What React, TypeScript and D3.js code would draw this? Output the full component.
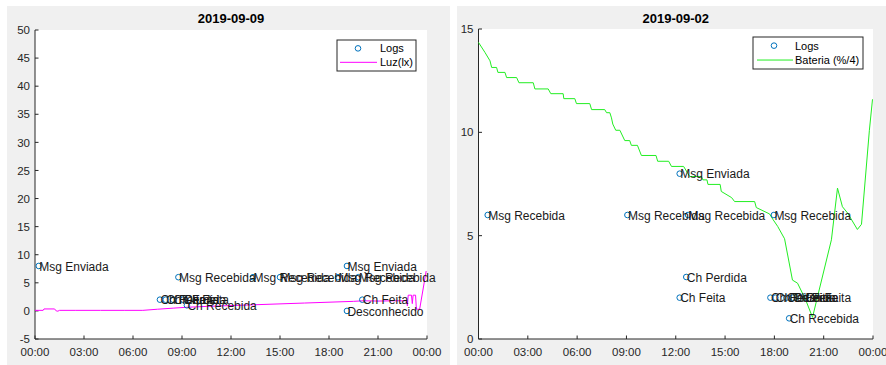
import React from "react";
import * as d3 from "d3";

// ---------- data ----------
const xTickHours = [0, 3, 6, 9, 12, 15, 18, 21, 24];
const xTickLabels = ["00:00", "03:00", "06:00", "09:00", "12:00", "15:00", "18:00", "21:00", "00:00"];

// Left panel (2019-09-09)
const leftTitle = "2019-09-09";
const leftYTicks = [-5, 0, 5, 10, 15, 20, 25, 30, 35, 40, 45, 50];
const luzHours = [0, 0.5, 0.55, 1.2, 1.3, 1.4, 1.5, 2.5, 4, 5.5, 6.6, 7.5, 8.5, 9.3, 10.5, 12, 13.5, 15, 16.5, 18, 19.5, 20.1, 21, 22, 22.75, 22.8, 22.85, 23.05, 23.1, 23.15, 23.3, 23.35, 23.55, 23.95];
const luzValues = [0.1, 0.1, 0.35, 0.35, 0.0, -0.05, 0.1, 0.1, 0.1, 0.1, 0.1, 0.3, 0.5, 0.65, 0.8, 0.95, 1.1, 1.25, 1.4, 1.55, 1.7, 1.8, 1.75, 1.8, 1.8, 0.9, 2.8, 2.8, 1.3, 2.8, 2.8, 0.3, 0.3, 7.1];
const leftLogHours = [0.23, 7.65, 8.0, 8.45, 9.06, 8.78, 9.3, 13.35, 15.0, 18.55, 19.1, 19.1, 19.8, 20.04];
const leftLogValues = [8, 2, 2, 2, 2, 6, 1, 6, 6, 6, 8, 0, 6, 2];
const leftLogLabels = ["Msg Enviada", "Ch Feita", "Ch Perdida", "Ch Feita", "Ch Feita", "Msg Recebida", "Ch Recebida", "Msg Recebida", "Msg Recebida", "Msg Recebida", "Msg Enviada", "Desconhecido", "Msg Recebida", "Ch Feita"];

// Right panel (2019-09-02)
const rightTitle = "2019-09-02";
const rightYTicks = [0, 5, 10, 15];
const batHours = [0, 0.39, 0.7, 0.8, 1.1, 1.18, 1.61, 1.71, 2.32, 2.46, 3.33, 3.43, 4.24, 4.4, 5.15, 5.19, 5.86, 5.96, 6.77, 6.88, 7.68, 7.79, 7.99, 8.09, 8.17, 8.35, 8.6, 8.9, 9.2, 9.3, 9.67, 9.91, 10.8, 10.9, 11.57, 11.74, 12.48, 12.85, 13.56, 13.65, 13.9, 13.96, 14.7, 14.77, 15.4, 15.58, 16.8, 16.9, 17.71, 17.9, 18.2, 18.62, 19.1, 19.41, 19.9, 20.32, 21.47, 21.84, 22.14, 22.45, 23.05, 23.3, 23.78, 23.97];
const batValues = [14.35, 13.87, 13.46, 13.14, 13.14, 12.9, 12.9, 12.65, 12.65, 12.4, 12.4, 12.1, 12.1, 11.87, 11.87, 11.63, 11.63, 11.39, 11.39, 11.1, 11.1, 10.95, 10.95, 10.7, 10.4, 10.1, 10.1, 9.6, 9.6, 9.37, 9.37, 8.88, 8.88, 8.6, 8.6, 8.35, 8.35, 7.86, 7.86, 7.7, 7.7, 7.48, 7.48, 7.14, 6.84, 6.65, 6.65, 6.36, 6.05, 5.8, 5.45, 4.85, 2.85, 2.7, 1.9, 1.05, 4.8, 7.3, 6.4, 6.1, 5.3, 5.55, 10.1, 11.6];
const rightLogHours = [0.56, 9.06, 12.24, 12.75, 17.97, 12.64, 12.24, 17.76, 18.06, 18.73, 19.1, 19.88, 18.9];
const rightLogValues = [6, 6, 8, 6, 6, 3, 2, 2, 2, 2, 2, 2, 1];
const rightLogLabels = ["Msg Recebida", "Msg Recebida", "Msg Enviada", "Msg Recebida", "Msg Recebida", "Ch Perdida", "Ch Feita", "Ch Feita", "Ch Perdida", "Ch Feita", "Ch Feita", "Ch Feita", "Ch Recebida"];

// ---------- styling ----------
const FONT = "'Liberation Sans', Arial, Helvetica, sans-serif";
const AXIS = "#262626";
const MARKER = "#0072BD";

type PanelProps = {
  bg: [number, number, number, number];
  plot: { left: number; right: number; top: number; bottom: number };
  yDomain: [number, number];
  yTicks: number[];
  title: string;
  lineH: number[];
  lineV: number[];
  lineColor: string;
  legendLabel: string;
  legend: { x0: number; x1: number; y0: number; y1: number; mark: number; lineX0: number; lineX1: number; text: number };
  logH: number[];
  logV: number[];
  logL: string[];
};

function Panel(p: PanelProps) {
  const x = d3.scaleLinear().domain([0, 24]).range([p.plot.left, p.plot.right]);
  const y = d3.scaleLinear().domain(p.yDomain).range([p.plot.bottom, p.plot.top]);
  const line = d3
    .line<number>()
    .x((_, i) => x(p.lineH[i]))
    .y((v) => y(v));
  const tl = 3.5;
  const lg = p.legend;
  const r1 = lg.y0 + (lg.y1 - lg.y0) * 0.27;
  const r2 = lg.y0 + (lg.y1 - lg.y0) * 0.72;
  return (
    <g>
      <rect x={p.bg[0]} y={p.bg[1]} width={p.bg[2] - p.bg[0]} height={p.bg[3] - p.bg[1]} fill="#f0f0f0" />
      <rect x={p.plot.left} y={p.plot.top} width={p.plot.right - p.plot.left} height={p.plot.bottom - p.plot.top} fill="#ffffff" />
      <text x={(p.plot.left + p.plot.right) / 2} y={22.5} textAnchor="middle" fontFamily={FONT} fontSize={13} fontWeight="bold" fill="#000">
        {p.title}
      </text>
      {/* y axis */}
      <line x1={p.plot.left} x2={p.plot.left} y1={p.plot.top} y2={p.plot.bottom} stroke={AXIS} strokeWidth={1} />
      {p.yTicks.map((t) => (
        <g key={"y" + t}>
          <line x1={p.plot.left} x2={p.plot.left + tl} y1={y(t)} y2={y(t)} stroke={AXIS} />
          <text x={p.plot.left - 5} y={y(t)} dy="0.36em" textAnchor="end" fontFamily={FONT} fontSize={11.5} fill={AXIS}>
            {t}
          </text>
        </g>
      ))}
      {/* x axis */}
      <line x1={p.plot.left} x2={p.plot.right} y1={p.plot.bottom} y2={p.plot.bottom} stroke={AXIS} strokeWidth={1} />
      {xTickHours.map((h, i) => (
        <g key={"x" + i}>
          <line x1={x(h)} x2={x(h)} y1={p.plot.bottom} y2={p.plot.bottom - tl} stroke={AXIS} />
          <text x={x(h)} y={p.plot.bottom + 17} textAnchor="middle" fontFamily={FONT} fontSize={11.5} fill={AXIS}>
            {xTickLabels[i]}
          </text>
        </g>
      ))}
      {/* series line */}
      <path d={line(p.lineV) || ""} fill="none" stroke={p.lineColor} strokeWidth={1} />
      {/* logs */}
      {p.logH.map((h, i) => (
        <circle key={"c" + i} cx={x(h)} cy={y(p.logV[i])} r={2.8} fill="none" stroke={MARKER} strokeWidth={1} />
      ))}
      {p.logH.map((h, i) => (
        <text key={"t" + i} x={x(h) + 0.5} y={y(p.logV[i])} dy="0.4em" fontFamily={FONT} fontSize={12} fill="#1a1a1a">
          {p.logL[i]}
        </text>
      ))}
      {/* legend */}
      <rect x={lg.x0} y={lg.y0} width={lg.x1 - lg.x0} height={lg.y1 - lg.y0} fill="#fff" stroke={AXIS} strokeWidth={1} />
      <circle cx={lg.mark} cy={r1} r={2.8} fill="none" stroke={MARKER} strokeWidth={1} />
      <text x={lg.text} y={r1} dy="0.36em" fontFamily={FONT} fontSize={11} fill="#000">
        Logs
      </text>
      <line x1={lg.lineX0} x2={lg.lineX1} y1={r2} y2={r2} stroke={p.lineColor} strokeWidth={1} />
      <text x={lg.text} y={r2} dy="0.36em" fontFamily={FONT} fontSize={11} fill="#000">
        {p.legendLabel}
      </text>
    </g>
  );
}

export default function App() {
  return (
    <svg width={886} height={365} style={{ position: "absolute", left: 0, top: 0, background: "#fff" }}>
      <rect x={0} y={0} width={886} height={365} fill="#fff" />
      <Panel
        bg={[7, 6, 450, 365]}
        plot={{ left: 35, right: 427, top: 30, bottom: 339 }}
        yDomain={[-5, 50]}
        yTicks={leftYTicks}
        title={leftTitle}
        lineH={luzHours}
        lineV={luzValues}
        lineColor="#ff00ff"
        legendLabel="Luz(lx)"
        legend={{ x0: 337, x1: 416, y0: 40, y1: 71, mark: 358, lineX0: 340, lineX1: 377, text: 380 }}
        logH={leftLogHours}
        logV={leftLogValues}
        logL={leftLogLabels}
      />
      <Panel
        bg={[457, 6, 886, 365]}
        plot={{ left: 478.5, right: 873, top: 29, bottom: 339 }}
        yDomain={[0, 15]}
        yTicks={rightYTicks}
        title={rightTitle}
        lineH={batHours}
        lineV={batValues}
        lineColor="#22ee22"
        legendLabel="Bateria (%/4)"
        legend={{ x0: 753, x1: 863, y0: 37, y1: 69, mark: 774, lineX0: 757, lineX1: 793, text: 795 }}
        logH={rightLogHours}
        logV={rightLogValues}
        logL={rightLogLabels}
      />
    </svg>
  );
}
